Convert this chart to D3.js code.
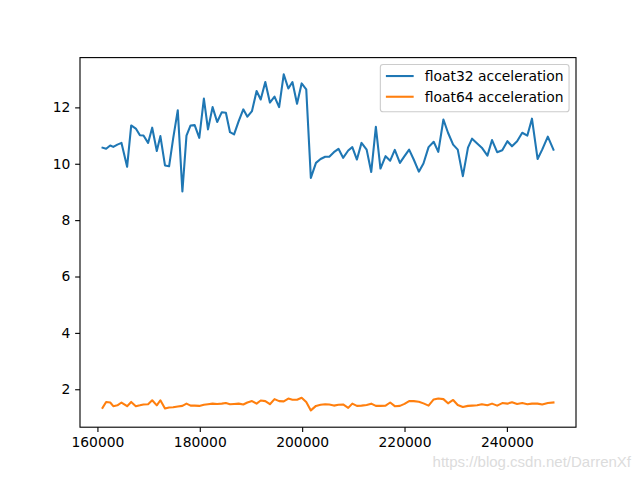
<!DOCTYPE html>
<html>
<head>
<meta charset="utf-8">
<script src="https://cdn.jsdelivr.net/npm/d3@7"></script>
<style>
  html, body { margin: 0; padding: 0; background: #fff; }
  svg { display: block; }
  text { font-family: "DejaVu Sans", sans-serif; }
</style>
</head>
<body>
<svg id="chart" width="640" height="480"></svg>
<script>
const sizes = [161000,161700,162500,163100,163900,164700,165800,166600,167500,168300,
  169000,169900,170700,171600,172300,173200,174000,174800,175700,176600,
  177400,178200,179000,179900,180800,181600,182500,183400,184300,185100,
  185900,186700,187600,188500,189300,190200,191100,191900,192800,193700,
  194600,195500,196400,197300,198100,199000,199900,200800,201700,202700,
  203600,204500,205300,206200,207100,208000,209000,209800,210700,211600,
  212600,213500,214400,215300,216300,217200,218100,219100,220000,220900,
  221800,222800,223700,224700,225700,226600,227600,228500,229500,230400,
  231400,232400,233200,234200,235100,236200,237100,238100,239100,240100,
  241000,242000,243000,244000,244900,246000,246900,248000,249100];

const float32Acc = [10.57,10.53,10.65,10.60,10.68,10.74,9.89,11.36,11.25,11.01,
  11.00,10.74,11.28,10.45,10.98,9.94,9.91,10.90,11.90,9.02,
  11.00,11.36,11.37,10.92,12.31,11.22,12.01,11.48,11.83,11.81,
  11.12,11.04,11.51,11.93,11.67,11.87,12.58,12.28,12.90,12.17,
  12.38,12.01,13.17,12.67,12.90,12.13,12.85,12.64,9.50,10.03,
  10.17,10.25,10.25,10.41,10.53,10.21,10.47,10.59,10.15,10.74,
  10.50,9.71,11.31,9.83,10.27,10.11,10.49,10.03,10.27,10.50,
  10.15,9.72,10.01,10.59,10.78,10.42,11.57,11.10,10.68,10.50,
  9.56,10.57,10.89,10.72,10.57,10.29,10.84,10.41,10.48,10.80,
  10.62,10.80,11.10,11.00,11.60,10.17,10.50,10.96,10.50];

const float64Acc = [1.34,1.55,1.53,1.40,1.43,1.53,1.40,1.55,1.40,1.43,
  1.46,1.47,1.61,1.43,1.61,1.32,1.35,1.36,1.39,1.41,
  1.49,1.42,1.42,1.41,1.45,1.47,1.49,1.48,1.49,1.51,
  1.47,1.48,1.49,1.46,1.53,1.58,1.49,1.60,1.58,1.47,
  1.65,1.58,1.57,1.67,1.63,1.63,1.70,1.55,1.25,1.41,
  1.45,1.47,1.46,1.42,1.45,1.46,1.34,1.49,1.41,1.42,
  1.44,1.49,1.41,1.41,1.42,1.53,1.40,1.41,1.48,1.58,
  1.58,1.56,1.50,1.42,1.64,1.67,1.65,1.50,1.62,1.44,
  1.37,1.41,1.42,1.43,1.47,1.43,1.49,1.42,1.51,1.49,
  1.54,1.48,1.51,1.47,1.49,1.49,1.46,1.51,1.53];

const seriesNames = ["float32 acceleration", "float64 acceleration"];
const seriesColors = ["#1f77b4", "#ff7f0e"];
const xTicks = [160000, 180000, 200000, 220000, 240000];
const yTicks = [2, 4, 6, 8, 10, 12];
const watermark = "https://blog.csdn.net/DarrenXf";

(function () {
const W = 640, H = 480;
const mLeft = 80, mRight = 576, mTop = 57.6, mBottom = 427.2;
const fs = 13.89;
const svg = d3.select("#chart");

function padded(ext) {
  const r = ext[1] - ext[0];
  return [ext[0] - 0.05 * r, ext[1] + 0.05 * r];
}
const xExt = padded(d3.extent(sizes));
const yExt = padded(d3.extent(float32Acc.concat(float64Acc)));

const x = d3.scaleLinear().domain(xExt).range([mLeft, mRight]);
const y = d3.scaleLinear().domain(yExt).range([mBottom, mTop]);

const series = [float32Acc, float64Acc].map((vals, i) => ({
  name: seriesNames[i], color: seriesColors[i],
  points: vals.map((v, j) => [sizes[j], v])
}));

const clipId = "plotclip";
svg.append("defs").append("clipPath").attr("id", clipId)
  .append("rect").attr("x", mLeft).attr("y", mTop)
  .attr("width", mRight - mLeft).attr("height", mBottom - mTop);

const line = d3.line().x(d => x(d[0])).y(d => y(d[1]));
const g = svg.append("g").attr("clip-path", `url(#${clipId})`);
series.forEach(s => {
  g.append("path").datum(s.points)
    .attr("d", line)
    .attr("fill", "none")
    .attr("stroke", s.color)
    .attr("stroke-width", 2.08)
    .attr("stroke-linejoin", "round")
    .attr("stroke-linecap", "square");
});

const tickLen = 4.86;
const xAxis = d3.axisBottom(x).tickValues(xTicks).tickFormat(d3.format("d"))
  .tickSize(tickLen).tickPadding(4.86).tickSizeOuter(0);
const yAxis = d3.axisLeft(y).tickValues(yTicks).tickFormat(d3.format("d"))
  .tickSize(tickLen).tickPadding(4.86).tickSizeOuter(0);

const gx = svg.append("g").attr("transform", `translate(0,${mBottom})`).call(xAxis);
const gy = svg.append("g").attr("transform", `translate(${mLeft},0)`).call(yAxis);
[gx, gy].forEach(ax => {
  ax.select(".domain").remove();
  ax.selectAll(".tick line").attr("stroke", "#000").attr("stroke-width", 1.11);
  ax.selectAll(".tick text").attr("fill", "#000")
    .style("font-family", "'DejaVu Sans', sans-serif").style("font-size", fs + "px");
});

// spines
svg.append("rect").attr("x", mLeft).attr("y", mTop)
  .attr("width", mRight - mLeft).attr("height", mBottom - mTop)
  .attr("fill", "none").attr("stroke", "#000").attr("stroke-width", 1.11);

// legend
const lg = svg.append("g");
const borderPad = 0.4 * fs, handleLen = 2.0 * fs, handlePad = 0.8 * fs;
const rowGap = 20.7;
const items = lg.selectAll("g.item").data(series).enter().append("g").attr("class", "item");
items.append("text")
  .attr("x", 0).attr("y", (d, i) => i * rowGap)
  .attr("dy", "0.35em")
  .style("font-size", fs + "px").attr("fill", "#000")
  .text(d => d.name);
let maxW = 0;
items.selectAll("text").each(function () { maxW = Math.max(maxW, this.getComputedTextLength()); });
const boxRight = mRight - 0.5 * fs;
const boxTop = mTop + 0.5 * fs;
const boxW = borderPad + handleLen + handlePad + maxW + borderPad;
const boxH = 47.2;
const boxLeft = boxRight - boxW;
lg.insert("rect", ":first-child")
  .attr("x", boxLeft).attr("y", boxTop)
  .attr("width", boxW).attr("height", boxH)
  .attr("rx", 2.8).attr("ry", 2.8)
  .attr("fill", "#fff").attr("fill-opacity", 0.8)
  .attr("stroke", "#cccccc").attr("stroke-width", 1.11);
const row0 = boxTop + 11.5;
items.attr("transform", `translate(0,${row0})`);
items.select("text").attr("x", boxLeft + borderPad + handleLen + handlePad);
items.append("line")
  .attr("x1", boxLeft + borderPad).attr("x2", boxLeft + borderPad + handleLen)
  .attr("y1", (d, i) => i * rowGap).attr("y2", (d, i) => i * rowGap)
  .attr("stroke", d => d.color).attr("stroke-width", 2.08);

// watermark
svg.append("text")
  .attr("x", 631).attr("y", 467)
  .attr("text-anchor", "end")
  .style("font-family", "'Liberation Sans', Arial, sans-serif")
  .style("font-size", "15px")
  .attr("fill", "#dcdcdc")
  .text(watermark);
})();
</script>
</body>
</html>
